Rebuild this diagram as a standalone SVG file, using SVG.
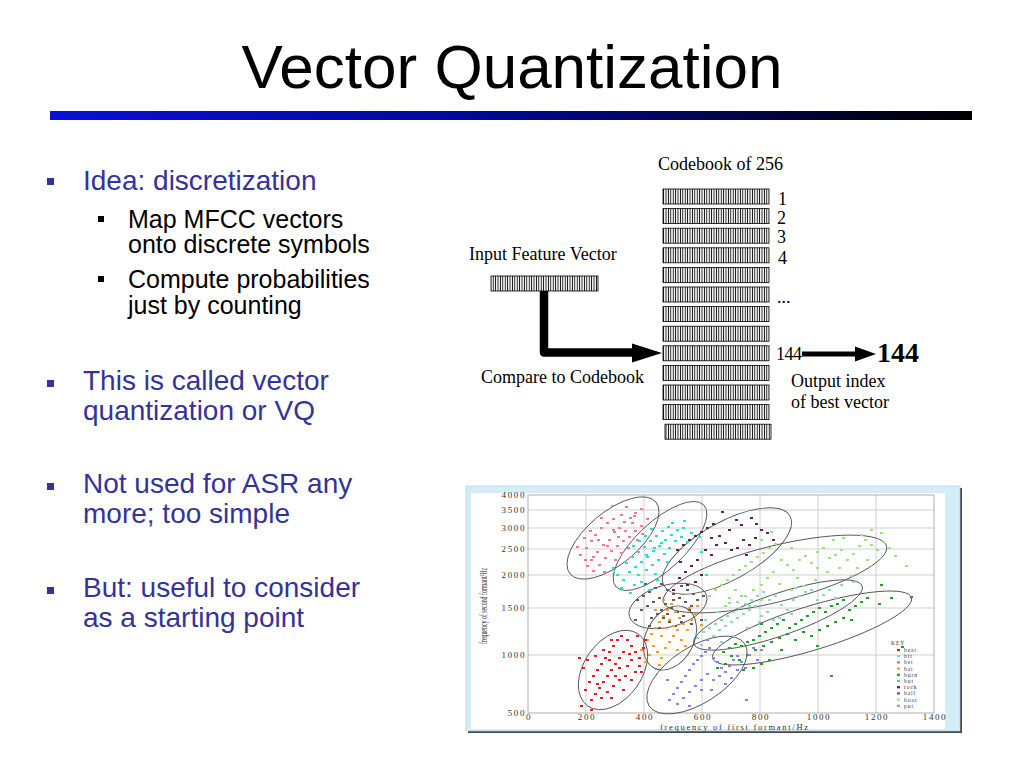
<svg xmlns="http://www.w3.org/2000/svg" width="1024" height="768" viewBox="0 0 1024 768">
<defs>
<linearGradient id="bar" x1="0" y1="0" x2="1" y2="0">
<stop offset="0" stop-color="#0a10d8"/>
<stop offset="0.5" stop-color="#000890"/>
<stop offset="1" stop-color="#000000"/>
</linearGradient>
<pattern id="hatch" width="2.4" height="4" patternUnits="userSpaceOnUse">
<rect width="2.4" height="4" fill="#fff"/>
<line x1="1.2" y1="0" x2="1.2" y2="4" stroke="#000" stroke-width="0.9"/>
</pattern>
</defs>
<style>
.l1{font-family:"Liberation Sans",Arial,sans-serif;font-size:28px;fill:#333399}
.l2{font-family:"Liberation Sans",Arial,sans-serif;font-size:25px;fill:#000}
.ser{font-family:"Liberation Serif","Times New Roman",serif;font-size:18px;fill:#000}
.row{fill:url(#hatch);stroke:#000;stroke-width:0.8}
.tick{font-family:"Liberation Serif","Times New Roman",serif;font-size:9px;fill:#333;letter-spacing:1.6px}
.key{font-family:"Liberation Serif","Times New Roman",serif;font-size:5.6px;fill:#333;letter-spacing:0.9px}
.grid{stroke:#c4c4c4;stroke-width:0.8;fill:none}
.ell{fill:none;stroke:#555;stroke-width:0.9}
.pts{fill:none;stroke-width:2.2}
</style>
<rect width="1024" height="768" fill="#fff"/>

<g id="title">
<text x="512" y="88" text-anchor="middle" font-family="Liberation Sans, Arial, sans-serif" font-size="62" fill="#000">Vector Quantization</text>
<rect x="50" y="111" width="922" height="9" fill="url(#bar)"/>
</g>

<g id="bullets">
<rect x="47" y="178" width="7" height="7" fill="#333399"/>
<text class="l1" x="83" y="190">Idea: discretization</text>
<rect x="98" y="216" width="6" height="6" fill="#000"/>
<text class="l2" x="128" y="227.5">Map MFCC vectors</text>
<text class="l2" x="128" y="253">onto discrete symbols</text>
<rect x="98" y="276" width="6" height="6" fill="#000"/>
<text class="l2" x="128" y="287.5">Compute probabilities</text>
<text class="l2" x="128" y="314">just by counting</text>
<rect x="47" y="380" width="7" height="7" fill="#333399"/>
<text class="l1" x="83" y="390">This is called vector</text>
<text class="l1" x="83" y="420">quantization or VQ</text>
<rect x="47" y="483" width="7" height="7" fill="#333399"/>
<text class="l1" x="83" y="493">Not used for ASR any</text>
<text class="l1" x="83" y="523">more; too simple</text>
<rect x="47" y="587" width="7" height="7" fill="#333399"/>
<text class="l1" x="83" y="597">But: useful to consider</text>
<text class="l1" x="83" y="627">as a starting point</text>
</g>

<g id="codebook">
<text class="ser" x="658" y="170">Codebook of 256</text>
<rect class="row" x="663" y="189" width="106" height="15"/>
<rect class="row" x="663" y="208.6" width="106" height="15"/>
<rect class="row" x="663" y="228.2" width="106" height="15"/>
<rect class="row" x="663" y="247.8" width="106" height="15"/>
<rect class="row" x="663" y="267.4" width="106" height="15"/>
<rect class="row" x="663" y="287" width="106" height="15"/>
<rect class="row" x="663" y="306.6" width="106" height="15"/>
<rect class="row" x="663" y="326.2" width="106" height="15"/>
<rect class="row" x="663" y="345.8" width="106" height="15"/>
<rect class="row" x="663" y="365.4" width="106" height="15"/>
<rect class="row" x="663" y="385" width="106" height="15"/>
<rect class="row" x="663" y="404.6" width="106" height="15"/>
<rect class="row" x="665" y="424.2" width="106" height="15"/>
<text class="ser" x="778" y="205">1</text>
<text class="ser" x="777" y="224">2</text>
<text class="ser" x="777" y="243">3</text>
<text class="ser" x="778" y="264">4</text>
<text class="ser" x="777" y="303">...</text>
<text class="ser" x="776" y="360" font-size="17" letter-spacing="-0.5">144</text>
</g>

<g id="input-vector">
<text class="ser" x="469" y="260">Input Feature Vector</text>
<rect class="row" x="491" y="276" width="107" height="15"/>
</g>

<g id="compare-label">
<text class="ser" x="481" y="383">Compare to Codebook</text>
</g>

<g id="output">
<text x="877" y="362" font-family="Liberation Serif, Times New Roman, serif" font-size="28" font-weight="bold" fill="#000">144</text>
<text class="ser" x="791" y="387">Output index</text>
<text class="ser" x="791" y="408">of best vector</text>
</g>

<g id="connectors">
<path d="M544 291 V352.5 H633" fill="none" stroke="#000" stroke-width="8.5" stroke-linejoin="round"/>
<polygon points="632,343.5 662,353 632,362.5" fill="#000"/>
<line x1="802" y1="354" x2="856" y2="354" stroke="#000" stroke-width="5"/>
<polygon points="855,346.5 876,354 855,361.5" fill="#000"/>
</g>

<g id="formant-plot">
<rect x="468" y="488" width="494" height="245" fill="#4a4a4a"/>
<rect x="466" y="486" width="494" height="245" fill="#d3eef9" stroke="#a9c9d6" stroke-width="0.6"/>
<rect x="471" y="493" width="474" height="236" fill="#fff"/>
<g class="grid">
<path d="M586 495V713M644 495V713M702 495V713M760 495V713M818 495V713M876 495V713"/>
<path d="M528 510H934M528 528H934M528 549H934M528 575H934M528 608H934M528 655H934"/>
<rect x="528" y="495" width="406" height="218" stroke="#999"/>
</g>
<g text-anchor="end">
<text class="tick" x="526" y="498">4000</text>
<text class="tick" x="526" y="513">3500</text>
<text class="tick" x="526" y="531">3000</text>
<text class="tick" x="526" y="552">2500</text>
<text class="tick" x="526" y="578">2000</text>
<text class="tick" x="526" y="611">1500</text>
<text class="tick" x="526" y="658">1000</text>
<text class="tick" x="526" y="716">500</text>
</g>
<g text-anchor="middle">
<text class="tick" x="529" y="720">0</text>
<text class="tick" x="587" y="720">200</text>
<text class="tick" x="645" y="720">400</text>
<text class="tick" x="703" y="720">600</text>
<text class="tick" x="761" y="720">800</text>
<text class="tick" x="819" y="720">1000</text>
<text class="tick" x="877" y="720">1200</text>
<text class="tick" x="935" y="720">1400</text>
</g>
<text x="660" y="729.5" font-family="Liberation Serif, Times New Roman, serif" font-size="8.5" fill="#333" textLength="148" lengthAdjust="spacing">frequency of first formant/Hz</text>
<text transform="translate(487,644) rotate(-90)" font-family="Liberation Serif, Times New Roman, serif" font-size="10.5" fill="#333" textLength="76" lengthAdjust="spacingAndGlyphs">frequency of second formant/Hz</text>

<g class="ell">
<ellipse transform="translate(613,538) rotate(-40)" rx="56" ry="26"/>
<ellipse transform="translate(660,546) rotate(-43)" rx="60" ry="24"/>
<ellipse transform="translate(727,551) rotate(-29)" rx="72" ry="29"/>
<ellipse transform="translate(775,574) rotate(-14)" rx="115" ry="28"/>
<ellipse transform="translate(778,615) rotate(-19)" rx="89" ry="21"/>
<ellipse transform="translate(812,628) rotate(-17)" rx="104" ry="22"/>
<ellipse transform="translate(668,606) rotate(-15)" rx="40" ry="21"/>
<ellipse transform="translate(670,638) rotate(-62)" rx="34" ry="24"/>
<ellipse transform="translate(613,670) rotate(-55)" rx="44" ry="29"/>
<ellipse transform="translate(697,675) rotate(-33)" rx="57" ry="28"/>
</g>

<path class="pts" stroke="#f07898" d="M579 555h3M585 548h3M590 560h3M596 552h3M602 545h3M608 540h3M613 532h3M618 528h3M623 522h3M629 518h3M634 513h3M640 509h3M594 535h3M600 528h3M606 523h3M612 519h3M620 515h3M586 566h3M592 571h3M598 565h3M604 558h3M610 551h3M616 546h3M622 541h3M628 537h3M634 531h3M640 526h3M646 519h3M583 538h3M589 531h3M611 506h3M625 507h3M633 516h3M603 572h3M590 541h3M597 540h3M614 560h3M620 553h3M627 548h3M606 546h3M584 560h3M576 547h3M641 534h3M636 540h3M600 518h3M631 523h3M617 537h3M624 531h3M612 530h3M592 557h3"/>
<path class="pts" stroke="#22e0e0" d="M616 575h3M622 580h3M628 572h3M634 567h3M640 562h3M646 557h3M652 551h3M658 546h3M664 540h3M670 535h3M676 530h3M682 528h3M690 533h3M698 537h3M625 563h3M631 557h3M637 552h3M643 547h3M649 541h3M655 536h3M661 531h3M667 527h3M645 570h3M651 565h3M657 560h3M663 554h3M640 582h3M648 590h3M656 580h3M620 588h3M633 585h3M644 536h3M650 529h3M638 541h3M632 546h3M660 543h3M668 548h3M674 541h3M680 537h3M686 542h3M654 574h3M666 562h3M700 552h3M705 575h3M612 568h3M629 593h3M637 575h3M645 555h3M653 548h3M671 523h3M683 521h3"/>
<path class="pts" stroke="#9ae67a" d="M708 596h3M714 590h3M720 585h3M726 580h3M732 575h3M738 570h3M744 566h3M750 562h3M756 557h3M762 553h3M768 548h3M774 544h3M780 560h3M786 565h3M792 570h3M798 560h3M804 556h3M810 563h3M816 552h3M822 548h3M828 558h3M834 555h3M840 550h3M846 560h3M852 554h3M858 546h3M864 540h3M870 545h3M876 550h3M882 542h3M888 548h3M894 556h3M905 566h3M870 530h3M860 535h3M880 533h3M728 598h3M736 602h3M744 596h3M752 590h3M760 585h3M766 578h3M772 572h3M778 584h3M790 590h3M802 586h3M814 580h3M826 572h3M838 568h3M850 576h3M816 568h3M748 606h3M734 590h3M760 600h3M774 596h3M796 578h3M760 540h3M770 532h3M790 548h3M856 568h3M842 538h3M866 560h3M832 540h3M724 606h3"/>
<path class="pts" stroke="#8cd8cc" d="M696 638h3M702 632h3M708 628h3M714 624h3M720 620h3M726 616h3M732 612h3M738 608h3M744 604h3M750 600h3M756 596h3M762 592h3M768 600h3M774 596h3M780 605h3M786 610h3M792 600h3M798 596h3M804 592h3M810 590h3M816 600h3M822 595h3M828 590h3M840 585h3M852 582h3M700 645h3M706 640h3M712 636h3M718 630h3M724 626h3M730 622h3M736 618h3M742 614h3M748 610h3M754 606h3M760 616h3M766 612h3M772 620h3M778 618h3M790 614h3M704 620h3M716 612h3M728 603h3M740 596h3M720 642h3M732 636h3M746 628h3M758 622h3M794 588h3M834 598h3"/>
<path class="pts" stroke="#1fa01f" d="M722 652h3M728 648h3M734 644h3M740 646h3M746 642h3M752 640h3M758 636h3M764 632h3M770 628h3M776 624h3M782 620h3M788 628h3M794 624h3M800 620h3M806 616h3M812 612h3M818 608h3M824 612h3M830 606h3M836 604h3M842 600h3M848 610h3M854 606h3M860 602h3M866 598h3M878 604h3M890 598h3M910 597h3M730 656h3M738 660h3M746 655h3M754 650h3M762 646h3M770 642h3M778 638h3M786 634h3M794 640h3M802 632h3M810 636h3M818 630h3M826 626h3M834 622h3M842 618h3M850 620h3M742 670h3M752 668h3M760 664h3M768 660h3M724 664h3M716 668h3M780 650h3M830 676h3M816 646h3M760 624h3M901 647h3M880 585h3"/>
<path class="pts" stroke="#6b1f45" d="M676 550h3M682 545h3M688 540h3M694 536h3M700 532h3M706 528h3M712 524h3M718 536h3M724 543h3M730 550h3M736 548h3M742 540h3M748 545h3M754 538h3M760 530h3M766 533h3M772 540h3M704 550h3M710 555h3M696 560h3M690 566h3M684 572h3M678 578h3M700 575h3M694 582h3M686 585h3M672 590h3M679 562h3M740 525h3M750 518h3M755 524h3M715 545h3M721 512h3M735 520h3M710 538h3M745 555h3M728 530h3"/>
<path class="pts" stroke="#5e5e5e" d="M636 600h3M642 596h3M648 592h3M654 588h3M660 584h3M666 590h3M672 594h3M678 598h3M684 602h3M690 606h3M696 600h3M702 596h3M640 610h3M646 606h3M652 602h3M658 598h3M664 604h3M670 608h3M676 612h3M682 616h3M688 610h3M694 614h3M650 618h3M656 614h3M662 618h3M668 622h3M674 626h3M680 622h3M644 584h3M680 586h3M686 590h3M692 594h3M660 610h3M666 614h3M672 600h3M700 620h3M634 620h3M648 626h3M658 628h3M690 624h3"/>
<path class="pts" stroke="#f0a030" d="M646 640h3M650 634h3M654 628h3M658 622h3M662 616h3M666 610h3M670 604h3M674 612h3M678 618h3M682 624h3M686 630h3M690 620h3M694 614h3M652 646h3M656 652h3M660 658h3M664 648h3M668 642h3M672 636h3M676 630h3M680 640h3M684 646h3M660 636h3M664 628h3M668 620h3M672 626h3M648 655h3M644 662h3M688 608h3M696 606h3M654 610h3M662 600h3M700 625h3M640 650h3M676 650h3M658 665h3"/>
<path class="pts" stroke="#e02020" d="M584 690h3M588 682h3M592 676h3M596 670h3M600 664h3M604 658h3M608 652h3M612 646h3M616 640h3M620 636h3M626 640h3M630 646h3M634 652h3M638 658h3M642 648h3M590 700h3M594 694h3M598 688h3M602 682h3M606 676h3M610 670h3M614 664h3M618 658h3M622 652h3M626 666h3M630 660h3M634 672h3M638 666h3M600 698h3M606 692h3M612 686h3M618 680h3M624 676h3M630 680h3M582 668h3M578 658h3M586 660h3M594 656h3M602 650h3M610 640h3M618 668h3M622 690h3M610 698h3M640 672h3M644 640h3M614 676h3M596 684h3M608 660h3M628 654h3M636 636h3M580 706h3M590 710h3"/>
<path class="pts" stroke="#8c80e8" d="M668 700h3M672 694h3M676 688h3M680 682h3M684 676h3M688 670h3M692 664h3M696 660h3M700 656h3M704 652h3M708 648h3M712 658h3M716 662h3M720 668h3M724 672h3M728 666h3M732 660h3M736 656h3M740 662h3M744 668h3M676 704h3M682 698h3M688 692h3M694 686h3M700 680h3M706 674h3M712 680h3M718 676h3M724 684h3M730 678h3M736 670h3M700 690h3M688 706h3M748 655h3M752 648h3M756 660h3M760 650h3M710 690h3M666 680h3M706 640h3M745 700h3"/>

<g id="legend">
<text class="key" x="891" y="645">KEY</text>
<path class="pts" stroke-width="2" stroke="#e02020" d="M897 650h3"/>
<path class="pts" stroke-width="2" stroke="#8cd8cc" d="M897 656.2h3"/>
<path class="pts" stroke-width="2" stroke="#8c80e8" d="M897 662.4h3"/>
<path class="pts" stroke-width="2" stroke="#f0a030" d="M897 668.6h3"/>
<path class="pts" stroke-width="2" stroke="#1fa01f" d="M897 674.8h3"/>
<path class="pts" stroke-width="2" stroke="#22e0e0" d="M897 681h3"/>
<path class="pts" stroke-width="2" stroke="#6b1f45" d="M897 687.2h3"/>
<path class="pts" stroke-width="2" stroke="#5e5e5e" d="M897 693.4h3"/>
<path class="pts" stroke-width="2" stroke="#9ae67a" d="M897 699.6h3"/>
<path class="pts" stroke-width="2" stroke="#f07898" d="M897 705.8h3"/>
<text class="key" x="904" y="652">beat</text>
<text class="key" x="904" y="658.2">bit</text>
<text class="key" x="904" y="664.4">bet</text>
<text class="key" x="904" y="670.6">bat</text>
<text class="key" x="904" y="676.8">burn</text>
<text class="key" x="904" y="683">but</text>
<text class="key" x="904" y="689.2">rock</text>
<text class="key" x="904" y="695.4">ball</text>
<text class="key" x="904" y="701.6">boot</text>
<text class="key" x="904" y="707.8">put</text>
</g>
</g>
</svg>
